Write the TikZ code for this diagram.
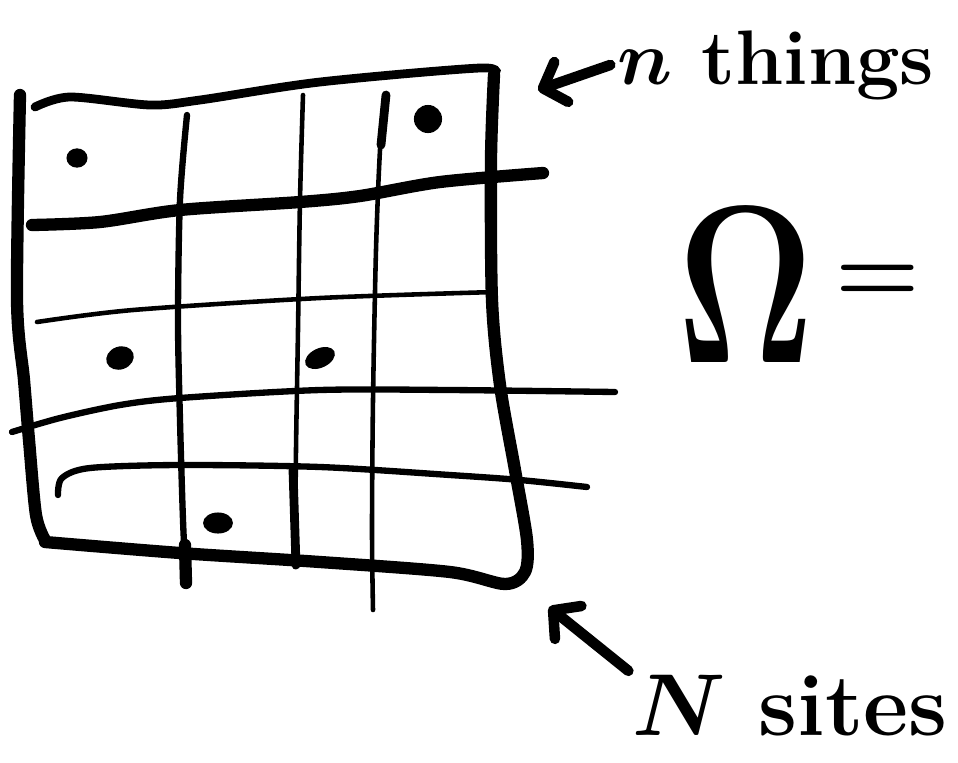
\documentclass[tikz,border=0pt]{standalone}
\usepackage{fix-cm}
\usetikzlibrary{arrows.meta}

\begin{document}
\begin{tikzpicture}[x=0.02cm, y=-0.02cm,
    rim/.style={line width=7pt, line cap=round, line join=round},
    gridthick/.style={line width=5pt, line cap=round},
    gridmid/.style={line width=3.6pt, line cap=round},
    gridthin/.style={line width=2.6pt, line cap=round},
    pen/.style={line width=6pt, line cap=round,
        -{Straight Barb[round, length=11pt, width=24pt]}},
    bead/.style={fill=black},
    scrawl/.style={inner sep=2pt, font=\bfseries\boldmath}]
\useasboundingbox (0,0) rectangle (958,762);

% Lattice: outer rim
\draw[rim] plot[smooth] coordinates {(20,95) (17,300) (24,380) (29,440) (36,515) (45,540)};
\draw[rim] plot[smooth] coordinates {(45,542) (180,553) (320,562) (450,572) (505,584)
    (525,572) (527,540) (515,470) (500,385) (492,300) (491,160) (494,75)};
\draw[gridthick] plot[smooth] coordinates {(35,107) (70,97) (150,105) (200,100) (320,82) (480,68) (494,75)};

% Lattice: rows
\draw[rim] plot[smooth] coordinates {(32,225) (100,222) (180,210) (300,202) (360,196) (440,182) (543,173)};
\draw[gridthin] plot[smooth] coordinates {(37,322) (133,310) (320,298) (495,292)};
\draw[gridmid] plot[smooth] coordinates {(12,432) (60,418) (120,405) (180,398) (320,390) (450,390) (615,392)};
\draw[gridmid] plot[smooth] coordinates {(58,495) (62,478) (90,468) (180,465) (320,467) (450,475) (520,480) (587,487)};

% Lattice: columns
\draw[gridmid] plot[smooth] coordinates {(187,115) (180,200) (178,320) (180,420) (183,520) (186,583)};
\draw[rim] (185,545) -- (186,583);
\draw[gridthin] plot[smooth] coordinates {(303,95) (300,200) (298,330) (296,450) (295,567)};
\draw[gridthick] (293,470) -- (296,565);
\draw[gridthin] plot[smooth] coordinates {(385,95) (380,150) (376,250) (373,400) (372,530) (373,610)};
\draw[gridthick] (386,95) -- (381,145);

% Occupied sites
\fill[bead] (77,158) ellipse [x radius=6pt, y radius=5.5pt];
\fill[bead] (428,119) circle [radius=8pt];
\fill[bead, rotate around={20:(120,358)}] (120,358) ellipse [x radius=8pt, y radius=6.5pt];
\fill[bead, rotate around={25:(320,358)}] (320,358) ellipse [x radius=9pt, y radius=5.5pt];
\fill[bead] (218,523) ellipse [x radius=8.5pt, y radius=6pt];

% Labels
\node[scrawl, anchor=base] (nthings) at (776,84) {\fontsize{44}{52}\selectfont $n$ things};
\node[scrawl, anchor=base] (omega) at (746,362) {\fontsize{128}{136}\selectfont \scalebox{0.75}[1]{$\Omega$}};
\node[scrawl, anchor=base] (equals) at (878,302) {\fontsize{55}{60}\selectfont $=$};
\node[scrawl, anchor=base] (Nsites) at (790,735) {\fontsize{50}{58}\selectfont $N$ sites};

% Pointers to the lattice
\coordinate (ntip) at (538,90);
\coordinate (Ntip) at (549,607);
\draw[pen] ([xshift=-2pt]nthings.west) -- (ntip);
\draw[pen] (Nsites.north west) -- (Ntip);
\end{tikzpicture}
\end{document}
